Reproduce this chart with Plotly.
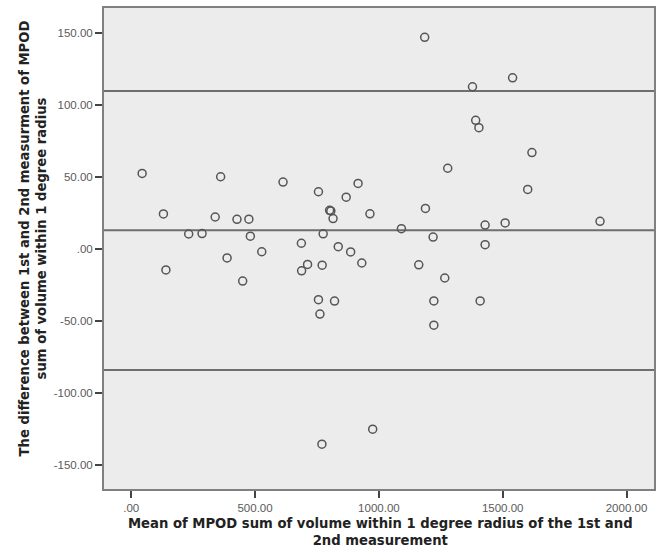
import plotly.graph_objects as go

mean_vals = [44, 130, 140, 232, 286, 339, 361, 387, 427, 475, 481, 450, 527, 613, 687, 688,
             712, 756, 756, 762, 771, 770, 775, 801, 806, 815, 821, 836, 868, 886, 916, 931,
             964, 975, 1091, 1161, 1185, 1188, 1219, 1222, 1222, 1266, 1278, 1378, 1391, 1404,
             1409, 1429, 1429, 1510, 1540, 1601, 1618, 1893]
diff_vals = [52.3, 24.2, -14.6, 10.3, 10.6, 22.1, 50.0, -6.3, 20.5, 20.6, 8.8, -22.3, -2.0, 46.3,
             3.9, -15.2, -10.8, 39.6, -35.2, -45.2, -11.3, -135.4, 10.4, 26.7, 26.3, 21.0, -36.2,
             1.5, 35.8, -2.1, 45.4, -9.8, 24.3, -125.0, 14.0, -11.1, 146.7, 28.0, 8.2, -36.1,
             -52.9, -20.2, 55.9, 112.4, 89.1, 84.0, -36.1, 16.5, 2.9, 18.0, 118.6, 41.2, 66.8, 19.1]
ref_lines = [109.4, 12.9, -84.0]

x_ticks = [0, 500, 1000, 1500, 2000]
x_tick_text = [".00", "500.00", "1000.00", "1500.00", "2000.00"]
y_ticks = [150, 100, 50, 0, -50, -100, -150]
y_tick_text = ["150.00", "100.00", "50.00", ".00", "-50.00", "-100.00", "-150.00"]

x_title = "Mean of MPOD sum of volume within 1 degree radius of the 1st and<br>2nd measurement"
y_title = "The difference between 1st and 2nd measurment of MPOD<br>sum of volume within 1 degree radius"

fig = go.Figure()
fig.add_trace(go.Scatter(
    x=mean_vals, y=diff_vals, mode="markers",
    marker=dict(symbol="circle-open", size=8, color="#555555", line=dict(width=1.5, color="#555555")),
    hoverinfo="x+y", showlegend=False,
))

for v in ref_lines:
    fig.add_shape(type="line", xref="paper", x0=0, x1=1, yref="y", y0=v, y1=v,
                  line=dict(color="#6e6e6e", width=2), layer="below")

axis_common = dict(
    showgrid=False, zeroline=False, showline=True, linecolor="#808080", linewidth=2, mirror=True,
    ticks="outside", ticklen=7, tickwidth=1.5, tickcolor="#444444",
    tickfont=dict(family="Liberation Sans, Arial", size=11.5, color="#5a5a5a"),
)

title_font = dict(family="DejaVu Sans", size=13.2, color="#222222", weight="bold")

fig.update_layout(
    width=662, height=552,
    margin=dict(l=104, r=8, t=6, b=63),
    paper_bgcolor="white", plot_bgcolor="#ececec",
    xaxis=dict(range=[-110, 2111], tickvals=x_ticks, ticktext=x_tick_text, **axis_common),
    yaxis=dict(range=[-166.5, 167], tickvals=y_ticks, ticktext=y_tick_text, **axis_common),
    annotations=[
        dict(text=x_title, xref="paper", yref="paper", x=0.503, y=-0.052, xanchor="center",
             yanchor="top", showarrow=False, align="center", font=title_font),
        dict(text=y_title, xref="paper", yref="paper", x=-0.129, y=0.521, xanchor="center",
             yanchor="middle", textangle=-90, showarrow=False, align="center", font=title_font),
    ],
)

fig.write_html("out.html")
